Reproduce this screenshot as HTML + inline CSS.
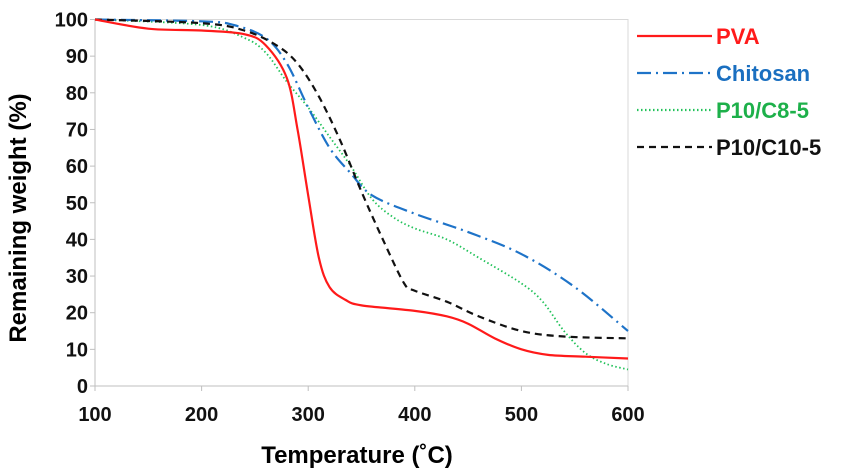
<!DOCTYPE html>
<html><head><meta charset="utf-8"><style>
html,body{margin:0;padding:0;background:#fff;}
svg{display:block;font-family:"Liberation Sans",sans-serif;}
</style></head><body>
<svg id="chart" width="856" height="474" viewBox="0 0 856 474">
<rect x="95" y="19.5" width="533" height="366.5" fill="none" stroke="#d9d9d9" stroke-width="1"/>
<g id="axes"></g>
<g id="series"></g>
<text x="357" y="463" text-anchor="middle" font-size="24" font-weight="bold" fill="#000">Temperature (˚C)</text>
<text transform="translate(26,218) rotate(-90)" text-anchor="middle" font-size="24" font-weight="bold" fill="#000">Remaining weight (%)</text>
<g id="legend"></g>
</svg>
<script>
const xTicks=[100,200,300,400,500,600];
const yTicks=[0,10,20,30,40,50,60,70,80,90,100];
const seriesNames=["PVA","Chitosan","P10/C8-5","P10/C10-5"];
const pvaT=[100,150,200,240,260,280,290,300,310,320,335,350,400,430,450,475,500,525,560,600];
const pvaW=[100,97.5,97,96,93,84,70,52,35,27,23.5,22,20.5,19,17,13,10,8.5,8,7.5];
const chiT=[100,200,230,260,280,300,320,340,360,400,450,500,550,600];
const chiW=[100,99.5,98.5,95,88,76,65,58,52,47,42,36,27,15];
const c8T=[100,200,240,260,280,300,320,340,360,380,400,430,460,500,520,540,560,580,600];
const c8W=[100,98.5,95,91,83,76,68,60,51,46,43,40,35,28,23,15,9,6,4.5];
const c10T=[100,200,240,270,290,310,330,350,370,390,400,430,460,500,540,600];
const c10W=[100,99,97,93,88,79,67,53,40,28,26,23,19,15,13.5,13];
const colors=["#ff1a1a","#1e73c8","#22c25a","#111111"];
const dashes=["none","14 5 2 5","1.5 2.5","7 5"];
const X0=95,X1=628,Y0=386,Y1=19.5;
const sx=t=>X0+(t-100)/500*(X1-X0);
const sy=w=>Y0-w/100*(Y0-Y1);
const NS="http://www.w3.org/2000/svg";
function mk(tag,attrs,parent){const e=document.createElementNS(NS,tag);for(const k in attrs)e.setAttribute(k,attrs[k]);parent.appendChild(e);return e;}
const axes=document.getElementById('axes');
const xl=mk('line',{x1:X0,y1:Y0,x2:X1,y2:Y0,stroke:'#bfbfbf','stroke-width':1},axes);


const yl=mk('line',{x1:X0,y1:Y0,x2:X0,y2:Y1,stroke:'#bfbfbf','stroke-width':1},axes);


xTicks.forEach(t=>{
 const tk=mk('line',{x1:sx(t),y1:Y0,x2:sx(t),y2:Y0+5,stroke:'#bfbfbf'},axes);
 
 
 const tx=mk('text',{x:sx(t),y:Y0+35,'text-anchor':'middle','font-size':20,'font-weight':'bold',fill:'#111'},axes);
 tx.textContent=t;
 
 
});
yTicks.forEach(w=>{
 const tk=mk('line',{x1:X0-5,y1:sy(w),x2:X0,y2:sy(w),stroke:'#bfbfbf'},axes);
 
 
 const tx=mk('text',{x:X0-7,y:sy(w)+7,'text-anchor':'end','font-size':20,'font-weight':'bold',fill:'#111'},axes);
 tx.textContent=w;
 
 
});
function smooth(T,W){
 const p=T.map((t,i)=>[sx(t),sy(W[i])]);
 let d='M'+p[0][0]+','+p[0][1];
 for(let i=0;i<p.length-1;i++){
  const a=p[i-1]||p[i],b=p[i],c=p[i+1],e=p[i+2]||c;
  const c1=[b[0]+(c[0]-a[0])/6,b[1]+(c[1]-a[1])/6];
  const c2=[c[0]-(e[0]-b[0])/6,c[1]-(e[1]-b[1])/6];
  d+=' C'+c1[0]+','+c1[1]+' '+c2[0]+','+c2[1]+' '+c[0]+','+c[1];
 }
 return d;
}
const data=[[pvaT,pvaW],[chiT,chiW],[c8T,c8W],[c10T,c10W]];
const sg=document.getElementById('series');
const order=[2,1,3,0];
order.forEach(i=>{
 const pth=mk('path',{d:smooth(data[i][0],data[i][1]),fill:'none',stroke:colors[i],'stroke-width':i==2?1.8:2.2,'stroke-dasharray':dashes[i]},sg);
 
 
});
const lg=document.getElementById('legend');
seriesNames.forEach((n,i)=>{
 const y=36+i*37;
 const ln=mk('line',{x1:637,y1:y,x2:712,y2:y,stroke:colors[i],'stroke-width':2.2,'stroke-dasharray':dashes[i]},lg);
 
 
 const tx=mk('text',{x:716,y:y+8,'font-size':22,'font-weight':'bold',fill:i==2?'#1db04a':(i==1?'#1a6fc0':colors[i])},lg);
 tx.textContent=n;
 
 
});
</script>
</body></html>
